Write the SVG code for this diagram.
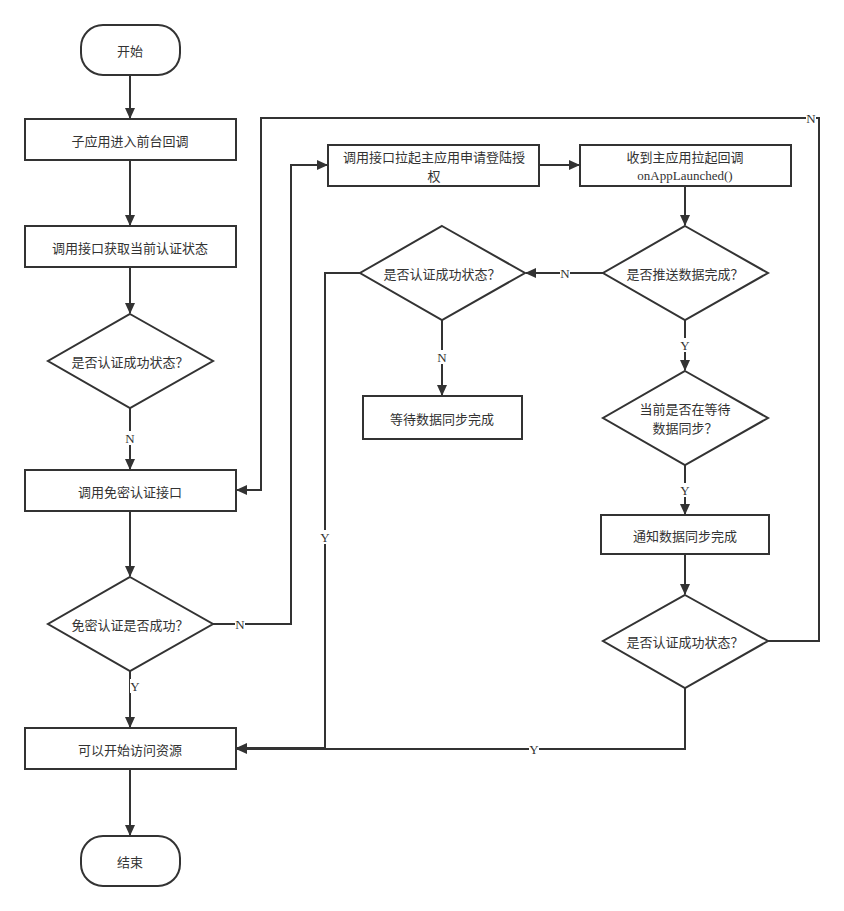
<svg xmlns="http://www.w3.org/2000/svg" width="844" height="911" viewBox="0 0 844 911">
<defs>
<marker id="arr" markerWidth="12" markerHeight="12" refX="10" refY="6" orient="auto" markerUnits="userSpaceOnUse">
<path d="M0,1 L11,6 L0,11 Z" fill="#333"/>
</marker>
<style>
.s{fill:#fff;stroke:#333;stroke-width:2}
.t{font-family:"Noto Sans CJK SC","Noto Sans",sans-serif;font-size:13px;fill:#333;text-anchor:middle;dominant-baseline:central}
.e{font-family:"Liberation Serif",serif;font-size:13px;fill:#333;text-anchor:middle;dominant-baseline:central}
.c{fill:none;stroke:#333;stroke-width:2;marker-end:url(#arr)}
.lb{fill:#fff}
</style>
</defs>
<rect width="844" height="911" fill="#fff"/>
<g id="connectors">
<path class="c" d="M130,75 V118"/>
<path class="c" d="M130,160 V225"/>
<path class="c" d="M130,267 V313"/>
<path class="c" d="M130,408 V469"/>
<path class="c" d="M130,511 V576"/>
<path class="c" d="M130,671 V727"/>
<path class="c" d="M130,769 V835"/>
<path class="c" d="M213,624 H291 V165 H327"/>
<path class="c" d="M539,165 H579"/>
<path class="c" d="M685,186 V225"/>
<path class="c" d="M603,273 H526"/>
<path class="c" d="M685,320 V370"/>
<path class="c" d="M442,320 V395"/>
<path class="c" d="M360,273 H325 V748 H237"/>
<path class="c" d="M685,465 V514"/>
<path class="c" d="M685,554 V594"/>
<path class="c" d="M685,688 V749 H237"/>
<path class="c" d="M768,641 H819 V118 H261 V490 H237"/>
<rect class="lb" x="125" y="431" width="10" height="14"/><text class="e" x="130" y="438">N</text>
<rect class="lb" x="130" y="679" width="10" height="14"/><text class="e" x="135" y="686">Y</text>
<rect class="lb" x="235" y="617" width="10" height="14"/><text class="e" x="240" y="624">N</text>
<rect class="lb" x="560" y="266" width="10" height="14"/><text class="e" x="565" y="273">N</text>
<rect class="lb" x="680" y="338" width="10" height="14"/><text class="e" x="685" y="345">Y</text>
<rect class="lb" x="437" y="350" width="10" height="14"/><text class="e" x="442" y="357">N</text>
<rect class="lb" x="320" y="530" width="10" height="14"/><text class="e" x="325" y="537">Y</text>
<rect class="lb" x="680" y="483" width="10" height="14"/><text class="e" x="685" y="490">Y</text>
<rect class="lb" x="529" y="742" width="10" height="14"/><text class="e" x="534" y="749">Y</text>
<rect class="lb" x="806" y="111" width="10" height="14"/><text class="e" x="811" y="118">N</text>
</g>
<g id="start"><rect class="s" x="81" y="25" width="99" height="50" rx="22"/><text class="t" x="130" y="50">开始</text></g>
<g id="r1"><rect class="s" x="25" y="119" width="211" height="41"/><text class="t" x="130" y="140">子应用进入前台回调</text></g>
<g id="r2"><rect class="s" x="25" y="226" width="211" height="41"/><text class="t" x="130" y="247">调用接口获取当前认证状态</text></g>
<g id="d1"><polygon class="s" points="130,314 213,361 130,408 48,361"/><text class="t" x="130" y="361">是否认证成功状态？</text></g>
<g id="r3"><rect class="s" x="25" y="470" width="211" height="41"/><text class="t" x="130" y="491">调用免密认证接口</text></g>
<g id="d2"><polygon class="s" points="130,577 213,624 130,671 48,624"/><text class="t" x="130" y="624">免密认证是否成功？</text></g>
<g id="r4"><rect class="s" x="25" y="728" width="211" height="41"/><text class="t" x="130" y="749">可以开始访问资源</text></g>
<g id="end"><rect class="s" x="81" y="836" width="99" height="50" rx="22"/><text class="t" x="130" y="861">结束</text></g>
<g id="r5"><rect class="s" x="328" y="145" width="211" height="41"/><text class="t" x="434" y="156">调用接口拉起主应用申请登陆授</text><text class="t" x="434" y="175">权</text></g>
<g id="r6"><rect class="s" x="580" y="145" width="211" height="41"/><text class="t" x="685" y="156">收到主应用拉起回调</text><text class="e" x="685" y="175">onAppLaunched()</text></g>
<g id="d3"><polygon class="s" points="685,226 768,273 685,320 603,273"/><text class="t" x="685" y="273">是否推送数据完成？</text></g>
<g id="d4"><polygon class="s" points="442,226 525,273 442,320 360,273"/><text class="t" x="442" y="273">是否认证成功状态？</text></g>
<g id="r7"><rect class="s" x="363" y="396" width="159" height="43"/><text class="t" x="442" y="418">等待数据同步完成</text></g>
<g id="d5"><polygon class="s" points="685,371 768,418 685,465 603,418"/><text class="t" x="685" y="408">当前是否在等待</text><text class="t" x="685" y="427">数据同步？</text></g>
<g id="r8"><rect class="s" x="601" y="515" width="168" height="39"/><text class="t" x="685" y="535">通知数据同步完成</text></g>
<g id="d6"><polygon class="s" points="685,595 768,641 685,688 603,641"/><text class="t" x="685" y="641">是否认证成功状态？</text></g>
</svg>
